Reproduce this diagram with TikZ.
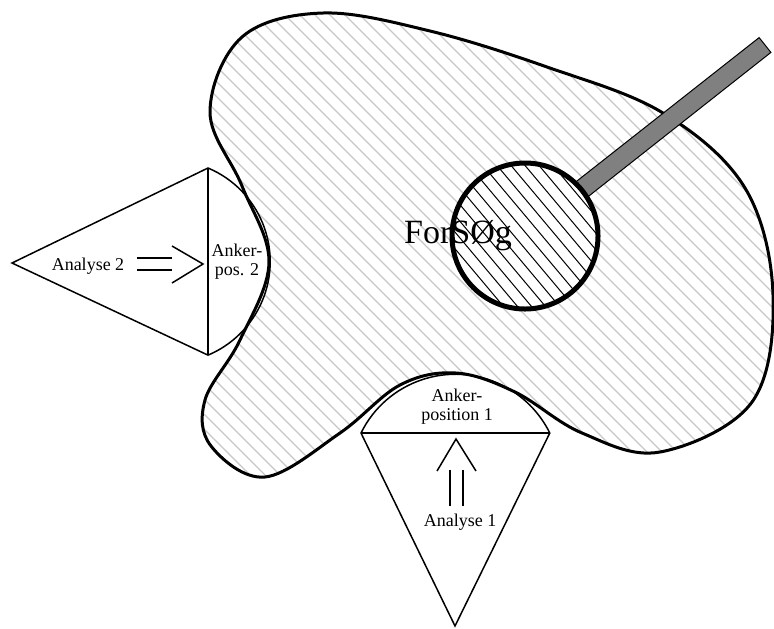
\documentclass[tikz,border=0pt]{standalone}
\usepackage{fontspec}
\setmainfont{Liberation Serif}
\def\blobpath{plot[smooth cycle, tension=0.6] coordinates {
(210,112) (242,37) (323,13) (430,31) (547,67) (663,113) (745,188)
(773,295) (752,402) (660,452) (582,433) (515,392) (456,373) (400,385)
(340,433) (265,477) (211,446) (205,400) (240,340) (269,262) (242,186)}}
\begin{document}
\begin{tikzpicture}[x=0.5pt,y=-0.5pt,
  thinline/.style={line width=0.75pt, line join=miter},
  hatchout/.style={line width=0.55pt, draw=black!22},
  hatchin/.style={line width=0.5pt, draw=black},
  lbl/.style={font=\fontsize{9}{9.5}\selectfont, align=center, inner sep=0pt},
]
\useasboundingbox (0,0) rectangle (774,628);
% key points
\coordinate (t2apex) at (12,263);
\coordinate (t2top) at (208,168);
\coordinate (t2bot) at (208,355);
\coordinate (t1apex) at (455,626);
\coordinate (t1left) at (361,433);
\coordinate (t1right) at (549.8,433);
\coordinate (lensc) at (525,236);
% blob hatching
\begin{scope}
  \clip \blobpath;
  \foreach \i in {-300,-285,...,780} \draw[hatchout] (\i,0) -- ++(650,650);
\end{scope}
% anchor areas white
\fill[white] (t2apex) -- (t2top) arc[start angle=-67.2, end angle=67.2, radius=101.5] -- cycle;
\fill[white] (t1apex) -- (t1left) arc[start angle=-153.8, end angle=-26.2, radius=105.2] -- cycle;
% blob outline
\draw[line width=1.5pt] \blobpath;
% rod
\draw[line width=0.5pt, fill={rgb,255:red,128;green,128;blue,128}]
  (575.2,206.8) -- (770.9,52.4) -- (759.1,37.6) -- (563.1,191.9) -- cycle;
% lens
\fill[white] (lensc) circle[radius=73];
\begin{scope}
  \clip (lensc) circle[radius=73];
  \foreach \i in {330,344,...,660} \draw[hatchin] (\i,100) -- ++(300,357);
\end{scope}
\node (lens) [circle, draw, line width=2.5pt, minimum size=73pt, inner sep=0pt] at (lensc) {};
% anchor outlines
\draw[thinline] (t2apex) -- (t2top) arc[start angle=-67.2, end angle=67.2, radius=101.5] -- cycle;
\draw[thinline] (t2top) -- (t2bot);
\draw[thinline] (t1apex) -- (t1left) arc[start angle=-153.8, end angle=-26.2, radius=105.2] -- cycle;
\draw[thinline] (t1left) -- (t1right);
% texts
\node (forsog) [anchor=base, inner sep=0pt, font=\fontsize{17}{18}\selectfont] at (458,243) {ForSØg};
\node (ap2) [lbl] at (237,262) {Anker-\\pos. 2};
\node (a2) [lbl] at (88,266) {Analyse 2};
\node (ap1) [lbl] at (457,407) {Anker-\\position 1};
\node (a1) [lbl] at (460,522) {Analyse 1};
% double arrows
\coordinate (ar2a) at (137,258); \coordinate (ar2b) at (172,258);
\coordinate (ar2c) at (137,270); \coordinate (ar2d) at (172,270);
\coordinate (ar2tip) at (203,264);
\draw[thinline] (ar2a) -- (ar2b);
\draw[thinline] (ar2c) -- (ar2d);
\draw[thinline] (172,246) -- (ar2tip) -- (172,283);
\coordinate (ar1a) at (450,506); \coordinate (ar1b) at (450,470);
\coordinate (ar1c) at (463,506); \coordinate (ar1d) at (463,470);
\coordinate (ar1tip) at (456,439);
\draw[thinline] (ar1a) -- (ar1b);
\draw[thinline] (ar1c) -- (ar1d);
\draw[thinline] (437,471) -- (ar1tip) -- (476,471);
\end{tikzpicture}
\end{document}
